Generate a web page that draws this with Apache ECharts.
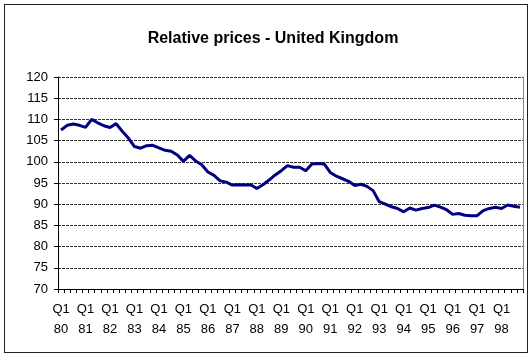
<!DOCTYPE html>
<html>
<head>
<meta charset="utf-8">
<script src="https://cdn.jsdelivr.net/npm/echarts@6/dist/echarts.min.js"></script>
<style>
  html, body { margin: 0; padding: 0; background: #fff; }
  #wrap { position: relative; width: 529px; height: 354px; }
  #frame { position: absolute; left: 4px; top: 4px; width: 522px; height: 347px; border: 1px solid #222; box-sizing: content-box; pointer-events: none; }
  #chart { position: absolute; left: 0; top: 0; width: 529px; height: 354px; }
</style>
</head>
<body>
<div id="wrap">
  <div id="chart"></div>
  <div id="frame"></div>
</div>
<script>
// Quarterly relative price index, United Kingdom, 1980 Q1 – 1998 Q4
const years = [80, 81, 82, 83, 84, 85, 86, 87, 88, 89, 90, 91, 92, 93, 94, 95, 96, 97, 98];
const quarters = ['Q1', 'Q2', 'Q3', 'Q4'];

const relativePrices = [
  107.5, 108.6, 108.9, 108.6,   // 1980
  108.1, 110.0, 109.2, 108.5,   // 1981
  108.1, 109.0, 107.2, 105.6,   // 1982
  103.6, 103.2, 103.8, 103.9,   // 1983
  103.3, 102.7, 102.5, 101.6,   // 1984
  100.1, 101.5, 100.2, 99.3,    // 1985
  97.6, 96.8, 95.5, 95.2,       // 1986
  94.5, 94.6, 94.5, 94.6,       // 1987
  93.7, 94.6, 95.7, 96.9,       // 1988
  97.9, 99.1, 98.7, 98.7,       // 1989
  97.9, 99.5, 99.6, 99.5,       // 1990
  97.5, 96.6, 96.0, 95.4,       // 1991
  94.4, 94.7, 94.2, 93.2,       // 1992
  90.6, 90.0, 89.4, 89.0,       // 1993
  88.2, 89.1, 88.6, 89.0,       // 1994
  89.2, 89.8, 89.3, 88.7,       // 1995
  87.6, 87.8, 87.4, 87.3,       // 1996
  87.3, 88.5, 89.0, 89.3,       // 1997
  89.0, 89.8, 89.5, 89.3        // 1998
];

// Category labels: "Q1\n80", "Q2\n80", ...
const categories = [];
years.forEach(y => quarters.forEach(q => categories.push(q + '\n' + y)));

const FONT = '"Liberation Sans", Arial, sans-serif';

const chart = echarts.init(document.getElementById('chart'), null, { renderer: 'canvas' });
chart.setOption({
  animation: false,
  backgroundColor: '#fff',
  title: {
    text: 'Relative prices - United Kingdom',
    left: 268,
    textAlign: 'center',
    top: 26,
    textStyle: { fontFamily: FONT, fontSize: 16, fontWeight: 'bold', color: '#000' }
  },
  grid: { left: 58, top: 77, width: 465, height: 212, containLabel: false },
  xAxis: {
    type: 'category',
    data: categories,
    boundaryGap: true,
    axisLine: { show: true, lineStyle: { color: '#000', width: 1 } },
    axisTick: { show: true, interval: 0, length: 4, lineStyle: { color: '#000' } },
    axisLabel: {
      interval: 3,
      margin: 10,
      fontFamily: FONT,
      fontSize: 13,
      lineHeight: 20,
      color: '#000',
      formatter: v => v
    },
    splitLine: { show: false }
  },
  yAxis: [
    {
      type: 'value',
      min: 70,
      max: 120,
      interval: 5,
      axisLine: { show: true, lineStyle: { color: '#000', width: 1 } },
      axisTick: { show: true, length: 4, lineStyle: { color: '#000' } },
      axisLabel: { margin: 10, fontFamily: FONT, fontSize: 13, color: '#000' },
      splitLine: { show: true, lineStyle: { color: '#333', width: 1, type: [3, 1] } }
    },
    {
      type: 'value',
      position: 'right',
      min: 70,
      max: 120,
      interval: 5,
      axisLine: { show: true, lineStyle: { color: '#888', width: 1 } },
      axisTick: { show: false },
      axisLabel: { show: false },
      splitLine: { show: false }
    }
  ],
  series: [{
    type: 'line',
    data: relativePrices,
    yAxisIndex: 0,
    symbol: 'none',
    smooth: false,
    lineStyle: { color: '#000080', width: 3 }
  }]
});
</script>
</body>
</html>
